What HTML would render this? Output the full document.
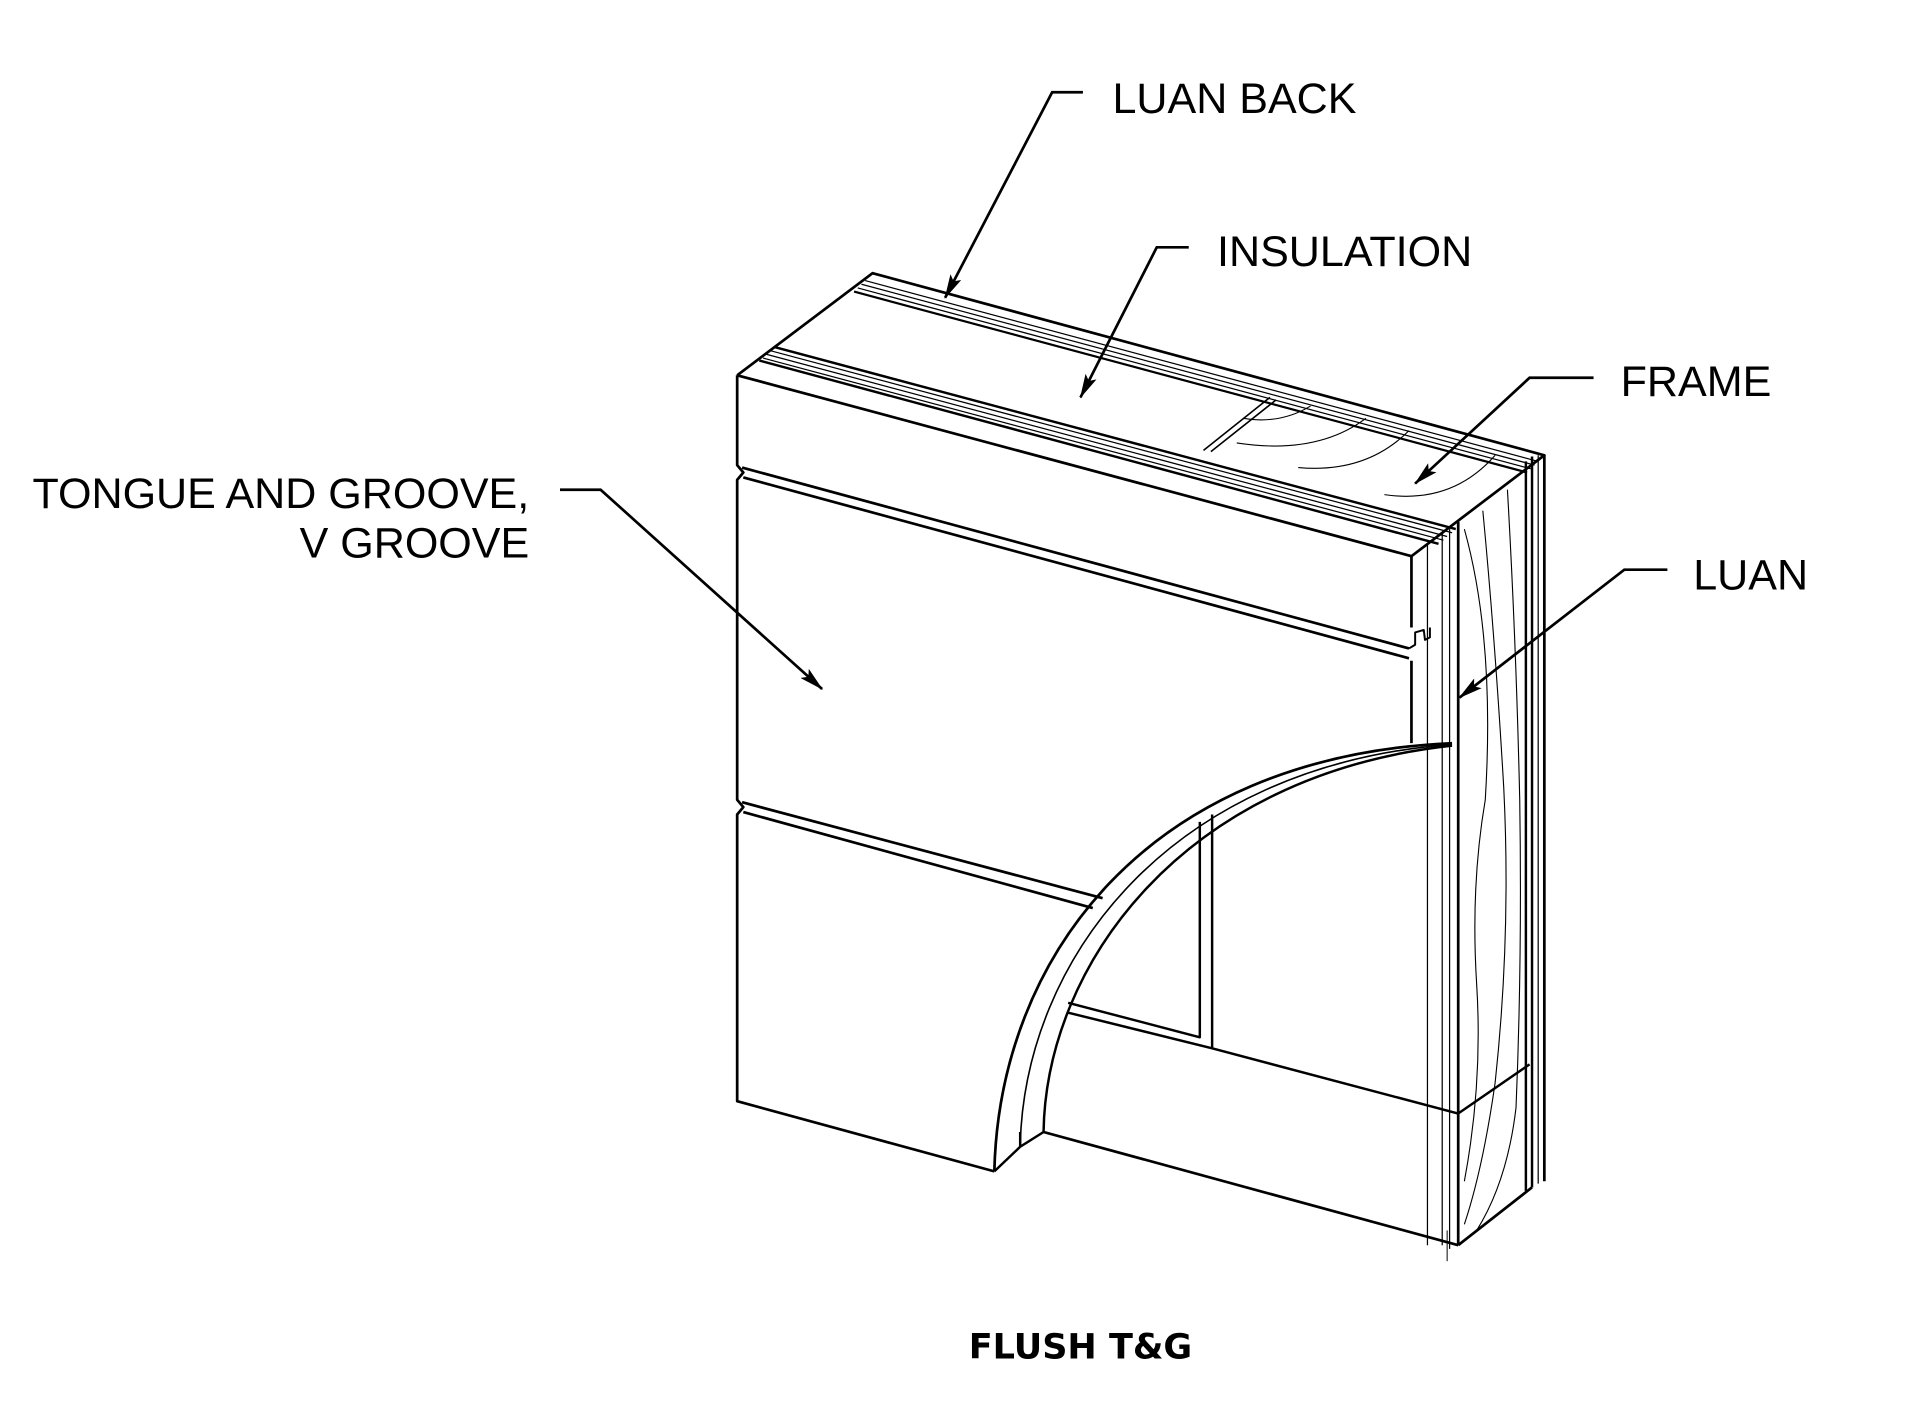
<!DOCTYPE html>
<html><head><meta charset="utf-8"><style>
html,body{margin:0;padding:0;background:#fff;}
svg{display:block}
text{font-family:"Liberation Sans",sans-serif;fill:#000}
</style></head><body>
<svg width="1905" height="1415" viewBox="0 0 1548 1150" xmlns="http://www.w3.org/2000/svg">
<defs>
<marker id="a" markerWidth="20" markerHeight="10" refX="19" refY="5" orient="auto" markerUnits="userSpaceOnUse"><path d="M0,0 L20,5 L0,10 L4,5 Z" fill="#000"/></marker></defs>
<g fill="none" stroke="#000" stroke-linejoin="round">
<path d="M599,305 L709,222 L1255,370 L1147,452" stroke-width="2.2"/>
<path d="M599,305 L1147,452" stroke-width="2.2"/>
<path d="M703,228 L1250,375 M700,231 L1247,378 M697,234 L1244,381" stroke-width="1"/>
<path d="M694,237 L1241,384" stroke-width="1.8"/>
<path d="M629,282 L1183,430" stroke-width="2"/>
<path d="M626,285 L1180,433 M623,288 L1176,436 M620,291 L1173,439" stroke-width="1"/>
<path d="M617,293 L1169,442" stroke-width="2"/>
<path d="M978,366 L1032,323 M984,367 L1037,325" stroke-width="1.3"/>
<path d="M1010,340 Q1040,345 1065,330 M1005,360 Q1070,370 1110,340 M1055,380 Q1110,385 1145,350 M1125,402 Q1180,410 1215,370" stroke-width="0.9"/>
<path d="M599,305 L599,378 L604,384 L599,390 L599,650 L604,656 L599,662 L599,895 L808,952" stroke-width="2.2"/>
<path d="M1147,452 L1147,510 M1147,537 L1147,604" stroke-width="2.2"/>
<path d="M603,380 L1145,527 M604,388 L1145,535" stroke-width="2.2"/>
<path d="M1145,527 L1150,524 L1150,514 L1157,512 L1158,520 L1162,518 L1162,510" stroke-width="1.6"/>
<path d="M603,652 L896,730 M604,660 L888,738" stroke-width="2.2"/>
<path d="M808,952 C812,780 930,615 1180,604" stroke-width="2.2"/>
<path d="M829,932 C832,780 950,622 1180,605" stroke-width="1.3"/>
<path d="M848,920 C850,785 960,630 1180,606" stroke-width="2"/>
<path d="M808,952 L829,932 L829,920 M829,932 L848,920" stroke-width="2"/>
<path d="M848,920 L1185,1012" stroke-width="2.2"/>
<path d="M975,668 L975,843 L868,815 M985,662 L985,852 M868,823 L985,852 L1185,905 L1243,865" stroke-width="2"/>
<path d="M1160,442 L1160,1012 M1172,433 L1172,1012 M1178,430 L1178,1015" stroke-width="1"/>
<path d="M1185,424 L1185,1012" stroke-width="2.2"/>
<path d="M1176,1000 L1176,1025" stroke-width="0.8"/>
<path d="M1240,375 L1240,968 M1245,371 L1245,965" stroke-width="2"/>
<path d="M1250,370 L1250,962" stroke-width="1"/>
<path d="M1255,370 L1255,960" stroke-width="2.2"/>
<path d="M1185,1012 L1245,965" stroke-width="2.2"/>
<path d="M1190,430 Q1215,520 1207,650 Q1195,720 1200,800 Q1205,880 1190,960" stroke-width="0.9"/>
<path d="M1205,415 Q1215,520 1222,640 Q1228,760 1215,880 Q1205,950 1190,995" stroke-width="0.9"/>
<path d="M1225,398 Q1232,520 1235,650 Q1237,780 1232,900 Q1225,960 1200,1000" stroke-width="0.9"/>
</g>
<g fill="none" stroke="#000" stroke-width="2.2">
<path d="M880,75 L855,75 L768,242" marker-end="url(#a)"/>
<path d="M966,201 L940,201 L878,323" marker-end="url(#a)"/>
<path d="M1295,307 L1243,307 L1150,393" marker-end="url(#a)"/>
<path d="M1355,463 L1320,463 L1186,567" marker-end="url(#a)"/>
<path d="M455,398 L488,398 L668,560" marker-end="url(#a)"/>
</g>
<g font-size="35">
<text x="904" y="92">LUAN BACK</text>
<text x="989" y="216">INSULATION</text>
<text x="1317" y="322">FRAME</text>
<text x="1376" y="479">LUAN</text>
<text x="430" y="413" text-anchor="end">TONGUE AND GROOVE,</text>
<text x="430" y="453" text-anchor="end">V GROOVE</text>
</g>
<text x="878" y="1104" font-size="28.5" font-weight="bold" text-anchor="middle" style="font-family:'DejaVu Sans','Liberation Sans',sans-serif">FLUSH T&amp;G</text>
</svg>
</body></html>
